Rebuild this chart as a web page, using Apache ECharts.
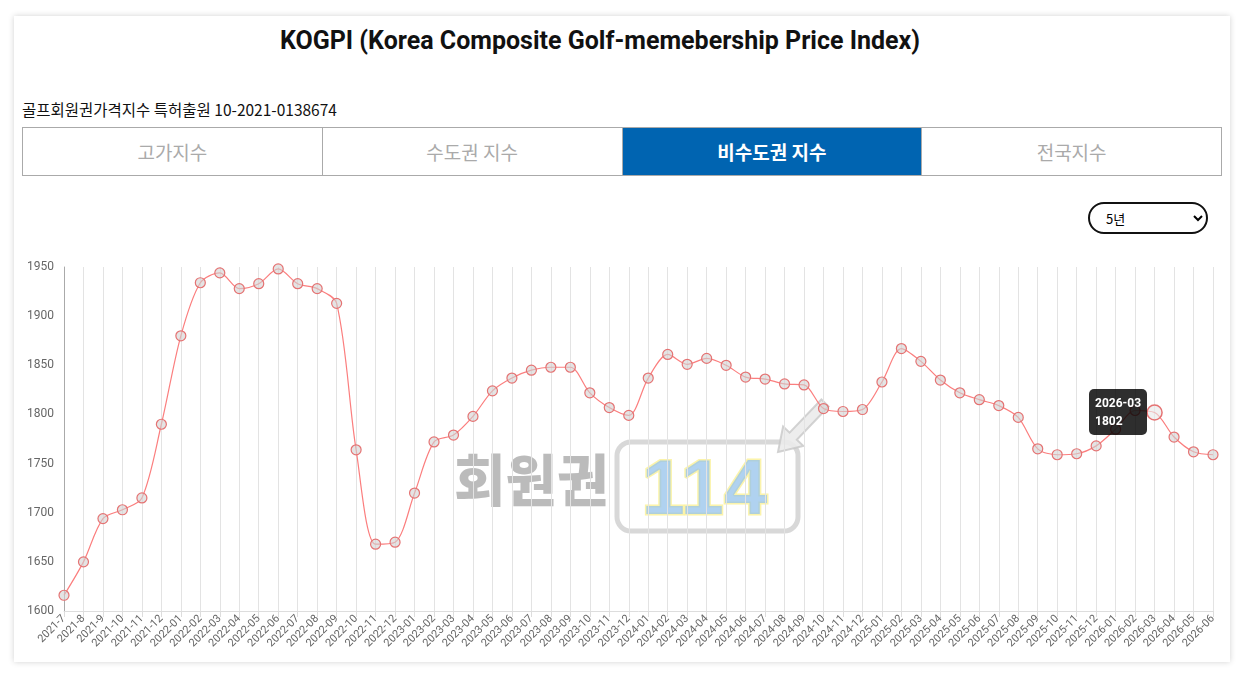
<!DOCTYPE html>
<html><head><meta charset="utf-8">
<script src="https://cdn.jsdelivr.net/npm/echarts@6/dist/echarts.min.js"></script>
<style>
html,body{margin:0;padding:0;background:#fff;width:1245px;height:677px;overflow:hidden;font-family:Roboto,"Noto Sans CJK KR",sans-serif;}
#card{position:absolute;left:14px;top:16px;width:1216px;height:646px;background:#fff;box-shadow:0 0 6px rgba(0,0,0,0.18);}
#title{position:absolute;left:0;top:10px;width:1172px;text-align:center;font-size:25px;line-height:30px;font-weight:bold;color:#111;font-family:Roboto,"Noto Sans CJK KR",sans-serif;}
#sub{position:absolute;left:8px;top:82px;font-size:15.5px;color:#111;font-family:"Noto Sans CJK KR",sans-serif;}
#tabs{position:absolute;left:8px;top:111px;width:1200px;height:49px;border:1px solid #aaa;display:flex;box-sizing:border-box;}
.tab{flex:1;display:flex;align-items:center;justify-content:center;font-size:19px;color:#aaa;border-right:1px solid #aaa;font-family:"Noto Sans CJK KR",sans-serif;}
.tab:last-child{border-right:none;}
.tab.on{background:#0064b1;color:#fff;font-weight:bold;}
#sel{position:absolute;left:1074px;top:186px;width:120px;height:32px;border:2px solid #111;border-radius:16px;background:#fff;font-size:13px;padding:0 10px 0 12px;box-sizing:border-box;font-family:"Noto Sans CJK KR",sans-serif;}
#chart{position:absolute;left:14px;top:240px;width:1216px;height:420px;}
</style></head>
<body>
<div id="card">
  <div id="title">KOGPI (Korea Composite Golf-memebership Price Index)</div>
  <div id="sub">골프회원권가격지수 특허출원 10-2021-0138674</div>
  <div id="tabs"><div class="tab">고가지수</div><div class="tab">수도권 지수</div><div class="tab on">비수도권 지수</div><div class="tab">전국지수</div></div>
  <select id="sel"><option>5년</option><option>3년</option><option>1년</option></select>
</div>
<div id="chart"></div>
<script>
const categories = ["2021-7","2021-8","2021-9","2021-10","2021-11","2021-12",
"2022-01","2022-02","2022-03","2022-04","2022-05","2022-06","2022-07","2022-08","2022-09","2022-10","2022-11","2022-12",
"2023-01","2023-02","2023-03","2023-04","2023-05","2023-06","2023-07","2023-08","2023-09","2023-10","2023-11","2023-12",
"2024-01","2024-02","2024-03","2024-04","2024-05","2024-06","2024-07","2024-08","2024-09","2024-10","2024-11","2024-12",
"2025-01","2025-02","2025-03","2025-04","2025-05","2025-06","2025-07","2025-08","2025-09","2025-10","2025-11","2025-12",
"2026-01","2026-02","2026-03","2026-04","2026-05","2026-06"];
const indexValues = [1616,1650,1694,1703,1715,1790,
1880,1934,1944,1928,1933,1948,1933,1928,1913,1764,1668,1670,
1720,1772,1779,1798,1824,1837,1845,1848,1848,1822,1807,1799,
1837,1861,1851,1857,1850,1838,1836,1831,1830,1806,1803,1805,
1833,1867,1854,1835,1822,1815,1809,1797,1765,1759,1760,1768,
1785,1804,1802,1777,1762,1759];
const yTicks = {min:1600, max:1950, interval:50};
const highlightIndex = 56;

const chart = echarts.init(document.getElementById('chart'));
chart.setOption({
  animation:false,
  grid:{left:50,right:17,top:27,bottom:49},
  tooltip:{
    trigger:'item', triggerOn:'none', alwaysShowContent:true,
    backgroundColor:'rgba(0,0,0,0.82)', borderWidth:0, padding:[5,6],
    extraCssText:'border-radius:5px;box-shadow:none;',
    textStyle:{color:'#fff',fontSize:12,fontWeight:'bold',fontFamily:'Roboto, sans-serif'},
    position:function(p,params,dom,rect,size){return [p[0]-size.contentSize[0]-8, p[1]-size.contentSize[1]/2];},
    formatter:function(p){return p.name+'<br/>'+p.value;}
  },
  xAxis:{
    type:'category', data:categories, boundaryGap:false,
    axisLine:{lineStyle:{color:'#ddd'}},
    axisTick:{show:true,alignWithLabel:true,length:6,lineStyle:{color:'#ddd'}},
    splitLine:{show:true,interval:0,lineStyle:{color:'#e3e3e3'}},
    axisLabel:{interval:0,rotate:45,color:'#666',fontSize:11,margin:6,fontFamily:'Roboto, sans-serif'}
  },
  yAxis:{
    type:'value', min:yTicks.min, max:yTicks.max, interval:yTicks.interval,
    axisLine:{show:true,lineStyle:{color:'#aaa'}},
    axisTick:{show:false},
    splitLine:{show:false},
    axisLabel:{color:'#666',fontSize:12,margin:10,fontFamily:'Roboto, sans-serif',formatter:function(v){return String(v);}}
  },
  graphic:[
    {type:'text',z:0,left:440,top:212,style:{text:'회원권',font:'900 56px "Noto Sans CJK KR", sans-serif',fill:'rgba(150,150,150,0.65)'}},
    {type:'rect',z:0,shape:{x:603,y:202,width:181,height:89,r:14},style:{fill:'none',stroke:'rgba(190,190,190,0.6)',lineWidth:5}},
    {type:'text',z:0,left:626,top:212,style:{text:'114',font:'bold 78px "Liberation Sans", sans-serif',fill:'rgba(150,195,235,0.75)',stroke:'rgba(250,240,150,0.8)',lineWidth:3}},
    {type:'polygon',z:0,shape:{points:[[764,212],[789.3,205.9],[782.8,199.7],[814.6,166.5],[807.4,159.5],[775.6,192.7],[769.1,186.5]]},style:{fill:'rgba(235,235,235,0.9)',stroke:'rgba(200,200,200,0.8)',lineWidth:2}}
  ],
  series:[{
    type:'line', data:indexValues, smooth:0.3, z:5,
    symbol:'circle', symbolSize:10,
    lineStyle:{color:'#e57373',width:1.2},
    itemStyle:{color:'rgba(210,210,210,0.6)',borderColor:'#e57373',borderWidth:1.2},
    emphasis:{scale:1.5,itemStyle:{borderWidth:1.5,borderColor:'#e57373'}}
  }]
});
chart.dispatchAction({type:'highlight',seriesIndex:0,dataIndex:highlightIndex});
chart.dispatchAction({type:'showTip',seriesIndex:0,dataIndex:highlightIndex});
</script>
</body></html>
